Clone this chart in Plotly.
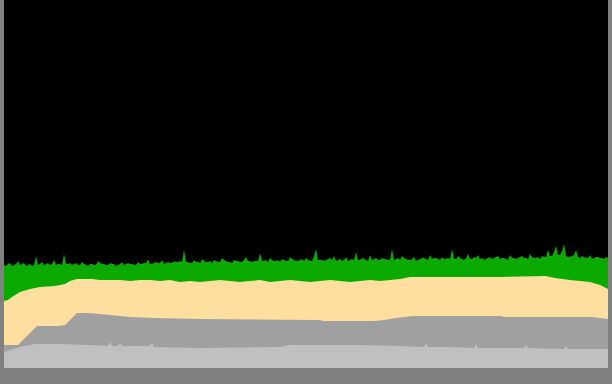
import plotly.graph_objects as go

# Heights (chart units, 0..368); x in sample units 0..604

# Light gray (bottom layer)
light_x = [0, 6, 16, 26, 31, 56, 86, 104, 106, 108, 114, 116, 118, 136, 146, 148, 150, 196,
           276, 286, 356, 396, 420, 422, 424, 446, 470, 472, 474, 496, 520, 522, 524, 560,
           562, 564, 604]
light_y = [16, 18, 21, 23, 24, 24, 23, 22, 26, 22, 22, 25, 22, 22, 22, 26, 21, 20,
           21, 23, 23, 22, 21, 25, 21, 21, 20, 24, 20, 20, 20, 23, 20, 19,
           22, 19, 19]

# Dark gray top (cumulative)
dark_x = [0, 14, 33, 54, 61, 73, 84, 96, 116, 126, 151, 196, 316, 319, 371, 380, 392,
          409, 496, 501, 588, 596, 604]
dark_y = [23, 23, 42, 42, 43, 55, 55, 54, 52, 51, 50, 49, 48, 47, 47, 48, 50,
          52, 52, 51, 51, 50, 49]

# Moccasin top (cumulative)
moc_x = [0, 4, 8, 16, 26, 36, 51, 61, 66, 73, 88, 96, 106, 116, 126, 136, 146, 156, 166,
         176, 186, 196, 206, 216, 226, 236, 246, 256, 266, 276, 286, 296, 306, 316, 326,
         336, 346, 356, 366, 376, 386, 396, 406, 496, 541, 551, 566, 586, 596, 604]
moc_y = [67, 68, 71, 76, 79, 81, 82, 84, 87, 89, 89, 88, 88, 88, 87, 88, 88, 87, 88,
         86, 87, 86, 87, 88, 87, 86, 87, 88, 86, 87, 88, 87, 86, 87, 88,
         87, 86, 87, 88, 87, 88, 89, 91, 91, 92, 90, 88, 86, 83, 79]

# Green top (cumulative): samples at x = 0, 4, 8, ... 604
green_y = [103, 104, 102, 104, 103, 105, 103, 102, 112, 104, 103, 105, 104, 103, 104, 114,
           104, 103, 105, 103, 104, 102, 104, 103, 105, 104, 103, 104, 102, 104, 103, 105,
           104, 103, 104, 105, 109, 104, 106, 105, 104, 106, 105, 106, 107, 118, 106, 105,
           106, 105, 107, 106, 105, 107, 106, 108, 106, 105, 107, 106, 108, 107, 106, 107,
           115, 107, 106, 108, 107, 106, 108, 107, 109, 107, 108, 107, 108, 107, 119, 108,
           107, 109, 108, 107, 109, 108, 107, 109, 116, 108, 109, 107, 108, 110, 108, 109,
           108, 119, 109, 108, 110, 108, 109, 107, 109, 110, 108, 109, 110, 108, 109, 110,
           119, 109, 110, 108, 114, 109, 110, 109, 108, 110, 109, 111, 109, 110, 108, 110,
           109, 111, 110, 109, 111, 110, 109, 111, 118, 112, 122, 113, 124, 111, 112, 118,
           110, 111, 110, 109, 111, 110, 109, 110]
# Green top at the in-between samples x = 2, 6, 10, ... 602
green_mid_y = [102, 105, 103, 107, 104, 102, 104, 103, 103, 106, 104, 103, 108, 104, 103, 104,
               105, 104, 103, 106, 103, 104, 103, 107, 104, 103, 105, 104, 103, 106, 104, 104,
               103, 106, 104, 105, 104, 105, 105, 108, 105, 105, 107, 106, 106, 106, 105, 108,
               106, 109, 106, 107, 108, 106, 110, 107, 106, 108, 107, 106, 111, 107, 107, 107,
               107, 108, 110, 107, 108, 109, 107, 111, 108, 107, 109, 110, 107, 112, 108, 108,
               108, 110, 112, 108, 107, 111, 108, 108, 108, 110, 108, 113, 109, 108, 110, 109,
               108, 108, 110, 112, 109, 108, 111, 108, 110, 109, 113, 110, 109, 111, 109, 109,
               109, 112, 109, 110, 109, 111, 113, 110, 109, 111, 110, 112, 110, 109, 113, 110,
               110, 112, 110, 114, 110, 111, 112, 111, 112, 116, 113, 117, 112, 111, 113, 111,
               112, 110, 113, 110, 111, 110, 111]

green_x, green_all = [], []
for i, v in enumerate(green_y):
    green_x.append(4 * i)
    green_all.append(v)
    if i < len(green_mid_y):
        green_x.append(4 * i + 2)
        green_all.append(green_mid_y[i])

fig = go.Figure()
for xs, ys, col in [(green_x, green_all, "#0aaa00"),
                    (moc_x, moc_y, "#ffdf9f"),
                    (dark_x, dark_y, "#a0a0a0"),
                    (light_x, light_y, "#c0c0c0")]:
    fig.add_trace(go.Scatter(x=xs, y=ys, mode="none", fill="tozeroy",
                             fillcolor=col, hoverinfo="skip", showlegend=False))

fig.update_layout(
    width=612, height=384,
    margin=dict(l=4, r=4, t=0, b=16, pad=0),
    paper_bgcolor="#808080",
    plot_bgcolor="#000000",
    xaxis=dict(range=[0, 604], visible=False, fixedrange=True),
    yaxis=dict(range=[0, 368], visible=False, fixedrange=True),
)

fig.write_html("out.html")
